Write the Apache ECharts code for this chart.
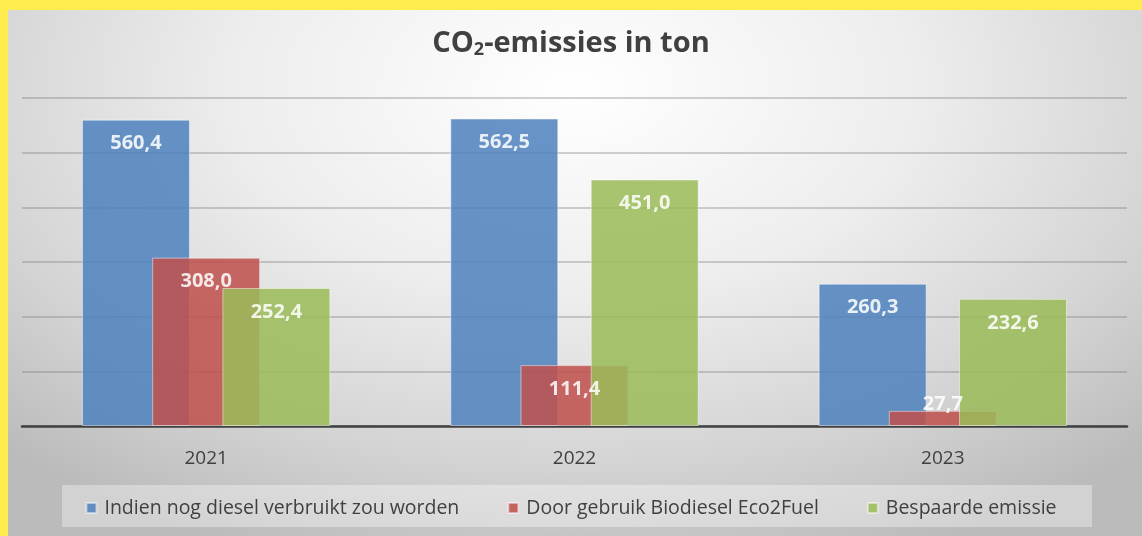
<!DOCTYPE html>
<html>
<head>
<meta charset="utf-8">
<script src="https://cdn.jsdelivr.net/npm/echarts@6/dist/echarts.min.js"></script>
<style>
html,body{margin:0;padding:0;width:1142px;height:536px;overflow:hidden;background:#FFEC4F;}
#bg{position:absolute;left:8px;top:10px;width:1134px;height:526px;
background:radial-gradient(ellipse 72% 95% at 50% 15%, #ffffff 0%, #ededed 42%, #d4d4d4 75%, #bbbbbb 100%);}
#chart{position:absolute;left:0;top:0;width:1142px;height:536px;}
</style>
</head>
<body>
<div id="bg"></div>
<div id="chart"></div>
<script>
const categories = ['2021', '2022', '2023'];
const seriesNames = ['Indien nog diesel verbruikt zou worden', 'Door gebruik Biodiesel Eco2Fuel', 'Bespaarde emissie'];
const dieselValues = [560.4, 562.5, 260.3];
const biodieselValues = [308.0, 111.4, 27.7];
const savedValues = [252.4, 451.0, 232.6];
const yTicks = [0, 100, 200, 300, 400, 500, 600];

const colors = ['#4F81BD', '#C0504D', '#9BBB59'];
const chart = echarts.init(document.getElementById('chart'));
const fmt = v => v.toFixed(1).replace('.', ',');

function mk(name, values, color) {
  return {
    name: name,
    type: 'bar',
    data: values.map(v => v < 60 ? {value: v, label: {position: 'top', distance: -3}} : v),
    barWidth: 108,
    barGap: '-35%',
    barCategoryGap: '32%',
    itemStyle: {color: color, opacity: 0.86, borderColor: 'rgba(255,255,255,0.55)', borderWidth: 1},
    label: {
      show: true, position: 'insideTop', distance: 14,
      color: '#ffffff', fontFamily: 'Open Sans', fontWeight: 'bold', fontSize: 20,
      formatter: p => fmt(p.value)
    },
    emphasis: {disabled: true},
    z: 2
  };
}

chart.setOption({
  animation: false,
  title: {
    text: '{a|CO}{s|2}{a|-emissies in ton}',
    left: 'center', top: 23,
    textStyle: {
      rich: {
        a: {fontFamily: 'Open Sans', fontWeight: 'bold', fontSize: 29, color: '#404040'},
        s: {fontFamily: 'Open Sans', fontWeight: 'bold', fontSize: 18, color: '#404040', verticalAlign: 'bottom', padding: [13, 0, 0, 0]}
      }
    }
  },
  graphic: [{
    type: 'rect', left: 62, top: 485, shape: {width: 1030, height: 42},
    style: {fill: 'rgba(255,255,255,0.35)'}, silent: true, z: -1
  }],
  legend: {
    top: 493, left: 'center',
    itemWidth: 10, itemHeight: 10, itemGap: 48,
    icon: 'rect',
    textStyle: {fontFamily: 'Open Sans', fontSize: 19.5, color: '#404040', padding: [0, 0, 0, 3]},
    data: seriesNames
  },
  grid: {left: 22, right: 15, top: 98, bottom: 110},
  xAxis: {
    type: 'category', data: categories,
    axisLine: {lineStyle: {color: '#404040', width: 2.5}},
    axisTick: {show: false},
    axisLabel: {fontFamily: 'Open Sans', fontSize: 19, color: '#404040', margin: 23}
  },
  yAxis: {
    type: 'value', min: yTicks[0], max: yTicks[yTicks.length - 1], interval: yTicks[1] - yTicks[0],
    axisLabel: {show: false}, axisLine: {show: false}, axisTick: {show: false},
    splitLine: {lineStyle: {color: 'rgba(120,120,120,0.45)', width: 1.5}}
  },
  series: [
    mk(seriesNames[0], dieselValues, colors[0]),
    mk(seriesNames[1], biodieselValues, colors[1]),
    mk(seriesNames[2], savedValues, colors[2])
  ]
});
</script>
</body>
</html>
